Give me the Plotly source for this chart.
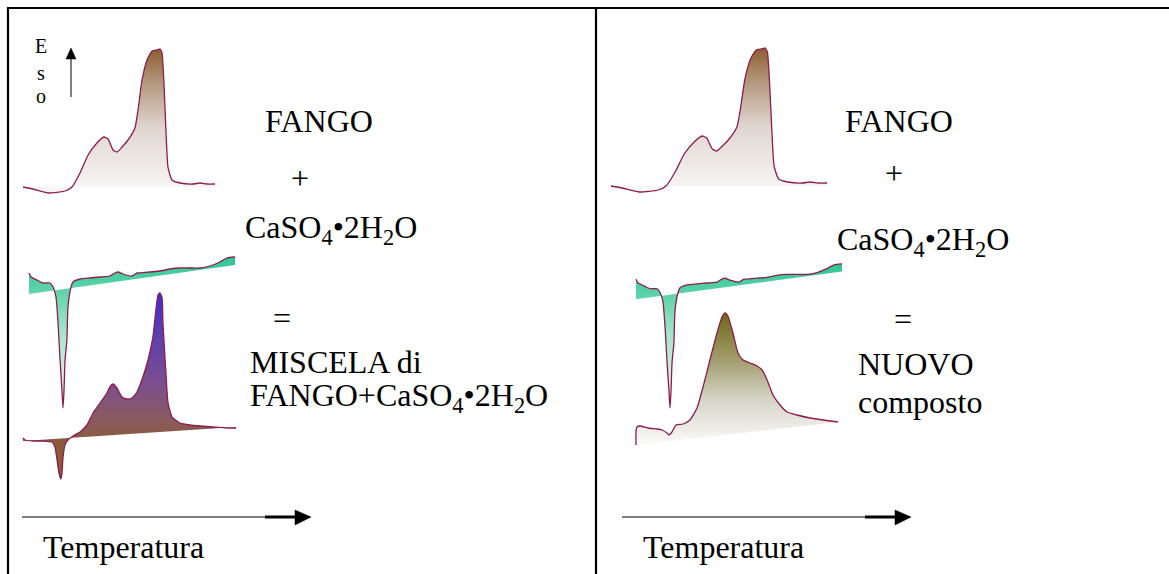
import plotly.graph_objects as go

W, H = 1169, 574

# ---------------- data ----------------
# FANGO thermogram: temperature (0-100 % of scan) vs DTA signal (arbitrary units)
fango_t = [0, 5.2, 13.0, 21.9, 25.5, 29.7, 33.9, 38.5, 42.2, 44.3, 46.9, 49.0, 51.6, 54.7, 58.3,
           59.9, 62.0, 64.6, 67.2, 69.8, 71.4, 72.4, 73.4, 74.5, 75.5, 77.6, 81.8, 88.5, 92.2, 95.8, 100]
fango_s = [0, -2, -6, -4, 0, 14, 32, 44, 50, 48, 37, 35, 40, 47, 59,
           77, 107, 127, 136, 137, 138, 134, 104, 54, 20, 7, 4, 3, 4, 3, 3]

# CaSO4.2H2O thermogram
gypsum_t = [0, 1.0, 3.9, 6.8, 10.2, 11.7, 13.1, 14.1, 15.0, 16.0, 16.5, 17.0, 17.5, 18.4, 18.9,
            20.4, 21.4, 24.8, 29.6, 34.5, 39.3, 41.7, 43.2, 45.6, 50.0, 52.4, 53.9, 58.7, 63.6,
            68.4, 73.3, 78.2, 83.0, 87.9, 92.7, 96.1, 100]
gypsum_s = [17, 13, 10, 7, 7, 3, -7, -33, -67, -100, -118, -100, -70, -50, -17,
            3, 8, 11, 12, 13, 14, 17, 18, 16, 14, 17, 17, 18, 19,
            21, 22, 22, 22, 24, 28, 32, 33]
gypsum_base_t = [0, 100]
gypsum_base_s = [-4, 25]

# Mixture FANGO + CaSO4.2H2O thermogram
mix_t = [0, 0.9, 4.7, 9.4, 13.6, 15.0, 16.0, 16.9, 17.8, 18.3, 18.8, 19.7, 21.1, 23.5, 26.8,
         30.0, 32.9, 36.2, 39.4, 40.8, 42.3, 44.1, 46.5, 48.8, 51.2, 53.5, 56.3, 58.7, 61.0,
         62.4, 63.4, 64.3, 65.3, 65.7, 67.1, 68.1, 70.0, 73.7, 78.4, 83.1, 89.2, 95.8, 100]
mix_s = [3, 1, 0, 0, -1, -6, -19, -32, -38, -32, -16, -4, 1, 5, 9,
         16, 28, 38, 48, 54, 57, 53, 44, 42, 43, 49, 64, 81, 104,
         131, 146, 148, 143, 118, 68, 38, 24, 18, 16, 15, 14, 13, 13]
mix_base_t = [0, 100]
mix_base_s = [0, 14]

# New compound thermogram
new_t = [0, 0, 0.5, 2.0, 5.9, 10.4, 12.9, 15.3, 16.3, 17.8, 19.8, 23.3, 26.7, 30.2, 33.2,
         36.6, 40.1, 42.6, 44.1, 45.5, 48.0, 50.5, 53.0, 56.4, 59.9, 62.4, 64.9, 67.8, 71.3,
         74.8, 79.7, 86.1, 92.6, 100]
new_s = [0, 13, 18, 19, 17, 16, 15, 12, 10, 13, 20, 21, 25, 37, 58,
         85, 112, 128, 132, 129, 112, 92, 85, 82, 79, 75, 65, 50, 40,
         33, 30, 27, 25, 23]
new_base_t = [0, 100]
new_base_s = [0, 23]

# ---------------- styles ----------------
LINE = "#8C1C4C"
FONT = "Liberation Serif, Times New Roman, serif"
FANGO_CS = [[0, "#F9F8F8"], [0.45, "#E0D6D0"], [0.75, "#B69B83"], [1, "#8C5E30"]]
GYPSUM_CS = [[0, "#F2FBF7"], [0.5, "#A6E5CB"], [0.78, "#5ED3A8"], [1, "#2CC793"]]
MIX_CS = [[0, "#8B5A2B"], [0.2, "#8A5A3C"], [0.32, "#8A5B5E"], [0.5, "#7C4F8C"],
          [0.8, "#5A3DB0"], [1, "#3D2BD6"]]
NEW_CS = [[0, "#FBFBFA"], [0.35, "#D5D3C6"], [0.65, "#A19C6C"], [1, "#6E6817"]]

layout = dict(width=W, height=H, margin=dict(l=0, r=0, t=0, b=0, pad=0),
              paper_bgcolor="white", plot_bgcolor="rgba(0,0,0,0)", showlegend=False)
traces = []
axis_count = [0]


def new_axes(x_px0, x_px1, y_zero_px, px_per_unit, s_lo, s_hi):
    """Create a hidden axis pair: t 0..100 -> x_px0..x_px1, signal 0 -> y_zero_px."""
    axis_count[0] += 1
    n = axis_count[0]
    sfx = "" if n == 1 else str(n)
    kx = (x_px1 - x_px0) / 100.0
    t_lo, t_hi = -3, 103
    xd = [(x_px0 + t_lo * kx) / W, (x_px0 + t_hi * kx) / W]
    pad = 0.04 * (s_hi - s_lo)
    lo, hi = s_lo - pad, s_hi + pad
    ytop = y_zero_px - hi * px_per_unit
    ybot = y_zero_px - lo * px_per_unit
    yd = [1 - ybot / H, 1 - ytop / H]
    layout["xaxis" + sfx] = dict(domain=xd, range=[t_lo, t_hi], visible=False, anchor="y" + sfx,
                                 fixedrange=True)
    layout["yaxis" + sfx] = dict(domain=yd, range=[lo, hi], visible=False, anchor="x" + sfx,
                                 fixedrange=True)
    return "x" + sfx, "y" + sfx


def curve(t, s, base_t, base_s, cs, box):
    xa, ya = new_axes(*box, min(s), max(s))
    if base_t is not None:
        traces.append(go.Scatter(x=base_t, y=base_s, mode="lines", line=dict(width=0),
                                 xaxis=xa, yaxis=ya, hoverinfo="skip"))
        fill = "tonexty"
    else:
        fill = "tozeroy"
    traces.append(go.Scatter(x=t, y=s, mode="lines", fill=fill,
                             fillgradient=dict(type="vertical", colorscale=cs),
                             line=dict(color=LINE, width=1.3, shape="spline", smoothing=0.5),
                             xaxis=xa, yaxis=ya, hoverinfo="skip"))


# left panel
curve(fango_t, fango_s, None, None, FANGO_CS, (23, 215, 187, 1.0))
curve(gypsum_t, gypsum_s, gypsum_base_t, gypsum_base_s, GYPSUM_CS, (29, 235, 290, 1.0))
curve(mix_t, mix_s, mix_base_t, mix_base_s, MIX_CS, (23, 236, 441, 1.0))
# right panel
curve(fango_t, fango_s, None, None, FANGO_CS, (611, 827, 186, 1.0))
curve(gypsum_t, gypsum_s, gypsum_base_t, gypsum_base_s, GYPSUM_CS, (636, 842, 295.4, 0.954))
curve(new_t, new_s, new_base_t, new_base_s, NEW_CS, (636, 838, 445, 1.0))


def px(x):
    return x / W


def py(y):
    return 1 - y / H


shapes = []


def line(x0, y0, x1, y1, w):
    shapes.append(dict(type="line", xref="paper", yref="paper", x0=px(x0), y0=py(y0),
                       x1=px(x1), y1=py(y1), line=dict(color="black", width=w)))


def tri(pts):
    d = "M " + " L ".join(f"{px(a)},{py(b)}" for a, b in pts) + " Z"
    shapes.append(dict(type="path", xref="paper", yref="paper", path=d,
                       fillcolor="black", line=dict(color="black", width=0.5)))


# frame
line(7, 8, W, 8, 2.2)
line(8, 7, 8, H, 2.2)
line(596, 7, 596, H, 2.2)
# exo arrow
line(71, 97, 71, 56, 1)
tri([(71, 48), (66, 59), (76, 59)])
# temperature arrows
for x0 in (22, 622):
    line(x0, 517, x0 + 243, 517, 1.2)
    line(x0 + 243, 517, x0 + 275, 517, 3)
    tri([(x0 + 289, 517), (x0 + 273, 510), (x0 + 273, 525)])

annotations = []


def text(s, x, base, size=32, anchor="left"):
    annotations.append(dict(text=s, x=px(x), y=py(base - 0.3375 * size), xref="paper",
                            yref="paper", xanchor=anchor, yanchor="middle", showarrow=False,
                            borderpad=0, borderwidth=0,
                            font=dict(family=FONT, size=size, color="black")))


CHEM = "CaSO<sub>4</sub>•2H<sub>2</sub>O"
text("FANGO", 265, 132)
text("+", 300, 189, anchor="center")
text(CHEM, 245, 240)
text("=", 282, 329, anchor="center")
text("MISCELA di", 250, 373)
text("FANGO+" + CHEM, 250, 408)
text("Temperatura", 43, 558)

text("FANGO", 845, 132)
text("+", 894, 184, anchor="center")
text(CHEM, 837, 252)
text("=", 903, 330, anchor="center")
text("NUOVO", 858, 375)
text("composto", 858, 413)
text("Temperatura", 643, 558)

text("E", 41, 53, size=20, anchor="center")
text("s", 41, 80, size=20, anchor="center")
text("o", 41, 103, size=20, anchor="center")

layout["shapes"] = shapes
layout["annotations"] = annotations

fig = go.Figure(data=traces, layout=layout)
fig.write_html("out.html", config={"displayModeBar": False},
               post_script="document.body.style.margin='0';")
